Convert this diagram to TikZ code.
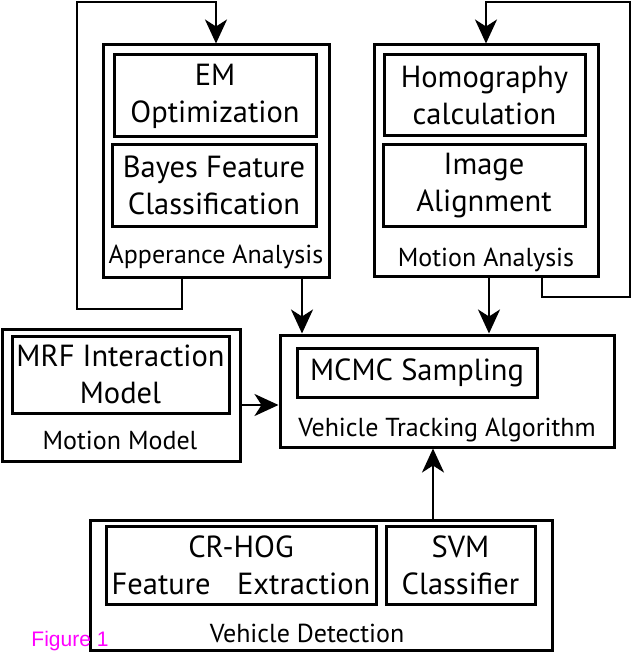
\documentclass[tikz,border=0pt]{standalone}
\usepackage{fontspec}
\setmainfont{PT Sans}
\newfontfamily\figfont{Liberation Sans}
\usepackage{tikz}
\usetikzlibrary{arrows.meta}
\definecolor{figmagenta}{rgb}{1,0,1}

\begin{document}
\begin{tikzpicture}[x=1pt,y=-1pt,
  box/.style={draw,line width=3pt,inner sep=0pt,align=center,
    font=\fontsize{30.5}{37}\selectfont},
  title/.style={font=\fontsize{26}{30}\selectfont},
  arr/.style={line width=2.4pt,-{Stealth[length=24pt,width=22pt,inset=7pt]}}]
  \useasboundingbox (0,0) rectangle (632,652);
  % appearance analysis
  \node[box,minimum width=226,minimum height=232] (app) at (216,161) {};
  \node[box,minimum width=202,minimum height=82] (em) at (215,96) {EM\\Optimization};
  \node[box,minimum width=204,minimum height=81] (bayes) at (214,185.5) {Bayes Feature\\Classification};
  \node[title] (apptitle) at (216,257) {Apperance Analysis};
  % motion analysis
  \node[box,minimum width=224,minimum height=231] (motion) at (486,160.5) {};
  \node[box,minimum width=201,minimum height=81] (homo) at (484.5,95.5) {Homography\\calculation};
  \node[box,minimum width=202,minimum height=81] (align) at (484,185.5) {Image\\Alignment};
  \node[title] (motiontitle) at (486,260) {Motion Analysis};
  % motion model
  \node[box,minimum width=238,minimum height=132] (model) at (121,395) {};
  \node[box,minimum width=217,minimum height=77] (mrf) at (120.5,374.5) {MRF Interaction\\Model};
  \node[title] (modeltitle) at (120,440) {Motion Model};
  % tracking
  \node[box,minimum width=334,minimum height=112] (track) at (447,391) {};
  \node[box,minimum width=240,minimum height=49] (mcmc) at (417,372.5) {MCMC Sampling};
  \node[title] (tracktitle) at (447,430) {Vehicle Tracking Algorithm};
  % detection
  \node[box,minimum width=462,minimum height=130] (detect) at (321,585) {};
  \node[box,minimum width=270,minimum height=78] (hog) at (241,565) {CR-HOG\\Feature\hspace{0.6em} Extraction};
  \node[box,minimum width=149,minimum height=78] (svm) at (460.5,565) {SVM\\Classifier};
  \node[title] (detecttitle) at (307,633) {Vehicle Detection};
  \node[text=figmagenta,font=\figfont\fontsize{21}{24}\selectfont] (fig) at (70,641) {Figure 1};

  \coordinate (xa) at (302,0);
  \coordinate (xm) at (489,0);
  \coordinate (xd) at (433,0);
  \coordinate (ym) at (0,405);
  \coordinate (la) at (182,0);
  \coordinate (lb) at (77,309);
  \coordinate (lc) at (77,2);
  \coordinate (ra) at (542,0);
  \coordinate (rb) at (630,297);
  \coordinate (rc) at (630,2);

  % feedback loops
  \draw[arr] (app.south -| la) |- (lb) -- (lc) -| (app.north);
  \draw[arr] (motion.south -| ra) |- (rb) -- (rc) -| (motion.north);
  % into tracking
  \draw[arr] (app.south -| xa) -- (track.north -| xa);
  \draw[arr] (motion.south -| xm) -- (track.north -| xm);
  \draw[arr] (model.east |- ym) -- (track.west |- ym);
  \draw[arr] (detect.north -| xd) -- (track.south -| xd);
\end{tikzpicture}
\end{document}
